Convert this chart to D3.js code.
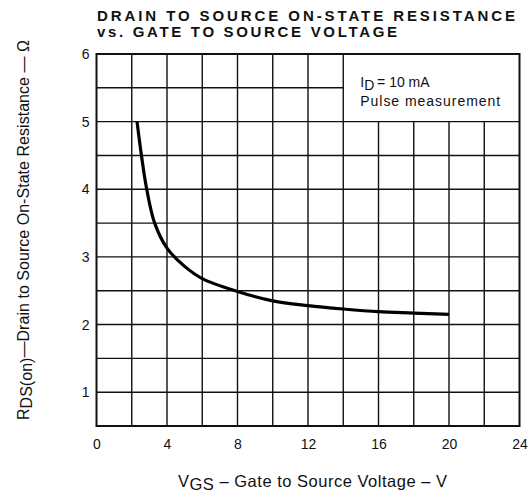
<!DOCTYPE html>
<html>
<head>
<meta charset="utf-8">
<script src="https://cdn.jsdelivr.net/npm/d3@7"></script>
<style>
    body { margin: 0; background: #fff; }
    svg { display: block; font-family: "Liberation Sans", Arial, sans-serif; }
</style>
</head>
<body>
<div id="chart"></div>
<script>

// --------------- Data --------------- //

// VGS (V) and RDS(on) (ohm)
const vgs = [2.3, 2.55, 2.85, 3.3, 4.0, 5, 6, 8, 10, 12, 14, 16, 18, 20];
const rds = [5.0, 4.5, 4.0, 3.5, 3.13, 2.86, 2.68, 2.49, 2.35, 2.28, 2.23, 2.19, 2.17, 2.15];

const xTicks = [0, 4, 8, 12, 16, 20, 24];
const yTicks = [1, 2, 3, 4, 5, 6];
const xGrid = [2, 4, 6, 8, 10, 12, 14, 16, 18, 20, 22];
const yGrid = [1, 1.5, 2, 2.5, 3, 3.5, 4, 4.5, 5, 5.5];

const titleLines = ["DRAIN TO SOURCE ON-STATE RESISTANCE", "vs. GATE TO SOURCE VOLTAGE"];


// --------------- Basic Setup --------------- //

const width = 531,
    height = 494;

const svg = d3.select("#chart")
    .append("svg")
    .attr("width", width)
    .attr("height", height);

const x = d3.scaleLinear().domain([0, 24]).range([96.5, 519.5]);
const y = d3.scaleLinear().domain([0.5, 6]).range([426, 54]);

// legend box sits in the top right cell block (no grid there)
const boxX = 14, boxY = 5;


// --------------- Grid --------------- //

const grid = svg.append("g")
    .attr("stroke", "#111")
    .attr("stroke-width", 1.4);

grid.selectAll("line.v")
    .data(xGrid)
    .join("line")
    .attr("class", "v")
    .attr("x1", d => x(d))
    .attr("x2", d => x(d))
    .attr("y1", y(0.5))
    .attr("y2", d => d > boxX ? y(boxY) : y(6));

grid.selectAll("line.h")
    .data(yGrid)
    .join("line")
    .attr("class", "h")
    .attr("y1", d => y(d))
    .attr("y2", d => y(d))
    .attr("x1", x(0))
    .attr("x2", d => d > boxY ? x(boxX) : x(24));

svg.append("rect")
    .attr("x", x(0))
    .attr("y", y(6))
    .attr("width", x(24) - x(0))
    .attr("height", y(0.5) - y(6))
    .attr("fill", "none")
    .attr("stroke", "#111")
    .attr("stroke-width", 2);


// --------------- Axes --------------- //

svg.append("g")
    .attr("transform", `translate(0,${y(0.5)})`)
    .call(d3.axisBottom(x).tickValues(xTicks).tickSize(0).tickPadding(13))
    .call(g => g.select(".domain").remove())
    .selectAll("text")
    .attr("font-size", 14)
    .attr("font-family", "Liberation Sans, Arial, sans-serif")
    .attr("fill", "#111");

svg.append("g")
    .attr("transform", `translate(${x(0)},0)`)
    .call(d3.axisLeft(y).tickValues(yTicks).tickFormat(d3.format("d")).tickSize(0).tickPadding(7))
    .call(g => g.select(".domain").remove())
    .selectAll("text")
    .attr("font-size", 14)
    .attr("font-family", "Liberation Sans, Arial, sans-serif")
    .attr("fill", "#111");


// --------------- Curve --------------- //

const line = d3.line()
    .x((d, i) => x(vgs[i]))
    .y(d => y(d))
    .curve(d3.curveCatmullRom.alpha(0.5));

svg.append("path")
    .datum(rds)
    .attr("d", line)
    .attr("fill", "none")
    .attr("stroke", "#000")
    .attr("stroke-width", 3.2);


// --------------- Text --------------- //

// Title (stretched to the width of the original)
svg.selectAll("text.title")
    .data(titleLines)
    .join("text")
    .attr("class", "title")
    .attr("x", 97)
    .attr("y", (d, i) => 21 + i * 16)
    .attr("font-size", 15)
    .attr("font-weight", "bold")
    .attr("textLength", (d, i) => i === 0 ? 418 : 300)
    .attr("lengthAdjust", "spacing")
    .attr("fill", "#111")
    .text(d => d);

// Legend text
const legend = svg.append("g")
    .attr("font-size", 14)
    .attr("fill", "#111");

const l1 = legend.append("text")
    .attr("x", x(14) + 17)
    .attr("y", 87);
l1.append("tspan").text("I");
l1.append("tspan").attr("dy", 3).text("D");
l1.append("tspan").attr("dy", -3).text("\u2009= 10 mA");

legend.append("text")
    .attr("x", x(14) + 17)
    .attr("y", 106)
    .attr("textLength", 140)
    .attr("lengthAdjust", "spacing")
    .text("Pulse measurement");

// X label
const xl = svg.append("text")
    .attr("x", 178)
    .attr("y", 487)
    .attr("font-size", 16.5)
    .attr("textLength", 269)
    .attr("lengthAdjust", "spacing")
    .attr("fill", "#111");
xl.append("tspan").text("V");
xl.append("tspan").attr("dy", 3).text("GS");
xl.append("tspan").attr("dy", -3).text(" \u2013 Gate to Source Voltage \u2013 V");

// Y label
const yl = svg.append("text")
    .attr("transform", "translate(29,420) rotate(-90)")
    .attr("font-size", 16)
    .attr("textLength", 380)
    .attr("lengthAdjust", "spacing")
    .attr("fill", "#111");
yl.append("tspan").text("R");
yl.append("tspan").attr("dy", 3).text("DS(on)");
yl.append("tspan").attr("dy", -3).text("\u2014Drain to Source On-State Resistance \u2014 \u03a9");

</script>
</body>
</html>
